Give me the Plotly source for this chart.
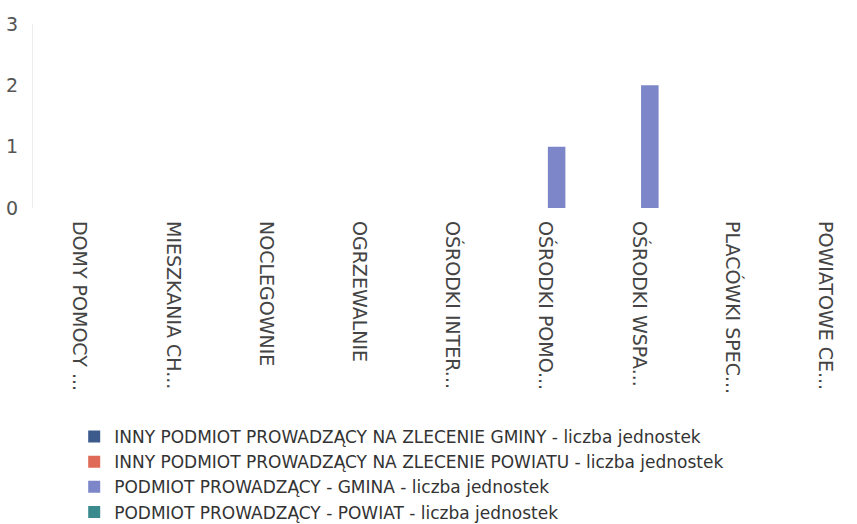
import plotly.graph_objects as go

categories = [
    "DOMY POMOCY ...",
    "MIESZKANIA CH...",
    "NOCLEGOWNIE",
    "OGRZEWALNIE",
    "OŚRODKI INTER...",
    "OŚRODKI POMO...",
    "OŚRODKI WSPA...",
    "PLACÓWKI SPEC...",
    "POWIATOWE CE...",
]

series_names = [
    "INNY PODMIOT PROWADZĄCY NA ZLECENIE GMINY - liczba jednostek",
    "INNY PODMIOT PROWADZĄCY NA ZLECENIE POWIATU - liczba jednostek",
    "PODMIOT PROWADZĄCY - GMINA - liczba jednostek",
    "PODMIOT PROWADZĄCY - POWIAT - liczba jednostek",
]

inny_gminy = [0, 0, 0, 0, 0, 0, 0, 0, 0]
inny_powiatu = [0, 0, 0, 0, 0, 0, 0, 0, 0]
gmina = [0, 0, 0, 0, 0, 1, 2, 0, 0]
powiat = [0, 0, 0, 0, 0, 0, 0, 0, 0]

colors = ["#3d5a8c", "#e06a58", "#7d86c9", "#3a8a8e"]

fig = go.Figure()
for name, vals, col in zip(series_names, [inny_gminy, inny_powiatu, gmina, powiat], colors):
    fig.add_trace(go.Bar(
        x=categories, y=vals, name=name,
        marker=dict(color=col, line=dict(width=0)),
    ))

font_family = "'DejaVu Sans', sans-serif"

fig.update_layout(
    width=857, height=524,
    barmode="group", bargap=0.06, bargroupgap=0.2,
    plot_bgcolor="white", paper_bgcolor="white",
    margin=dict(l=33, r=0, t=24, b=316, autoexpand=False),
    font=dict(family=font_family, color="#444444", size=19),
    xaxis=dict(
        tickangle=90, range=[-0.5, 8.34], automargin=False,
        showgrid=False, showline=False, ticks="",
        ticklabelstandoff=12,
        tickfont=dict(size=19, color="#444444"),
    ),
    yaxis=dict(
        range=[0, 3], dtick=1, showgrid=False, automargin=False,
        showline=True, linecolor="#ececec", linewidth=1,
        zeroline=False, ticks="", ticklabelstandoff=10,
        tickfont=dict(size=19, color="#555555"),
    ),
    showlegend=True,
    legend=dict(
        orientation="v", x=0.05, xanchor="left", y=-1.147, yanchor="top",
        font=dict(size=17, color="#333333"),
        itemwidth=30, tracegroupgap=0,
    ),
)

fig.write_html("out.html")
